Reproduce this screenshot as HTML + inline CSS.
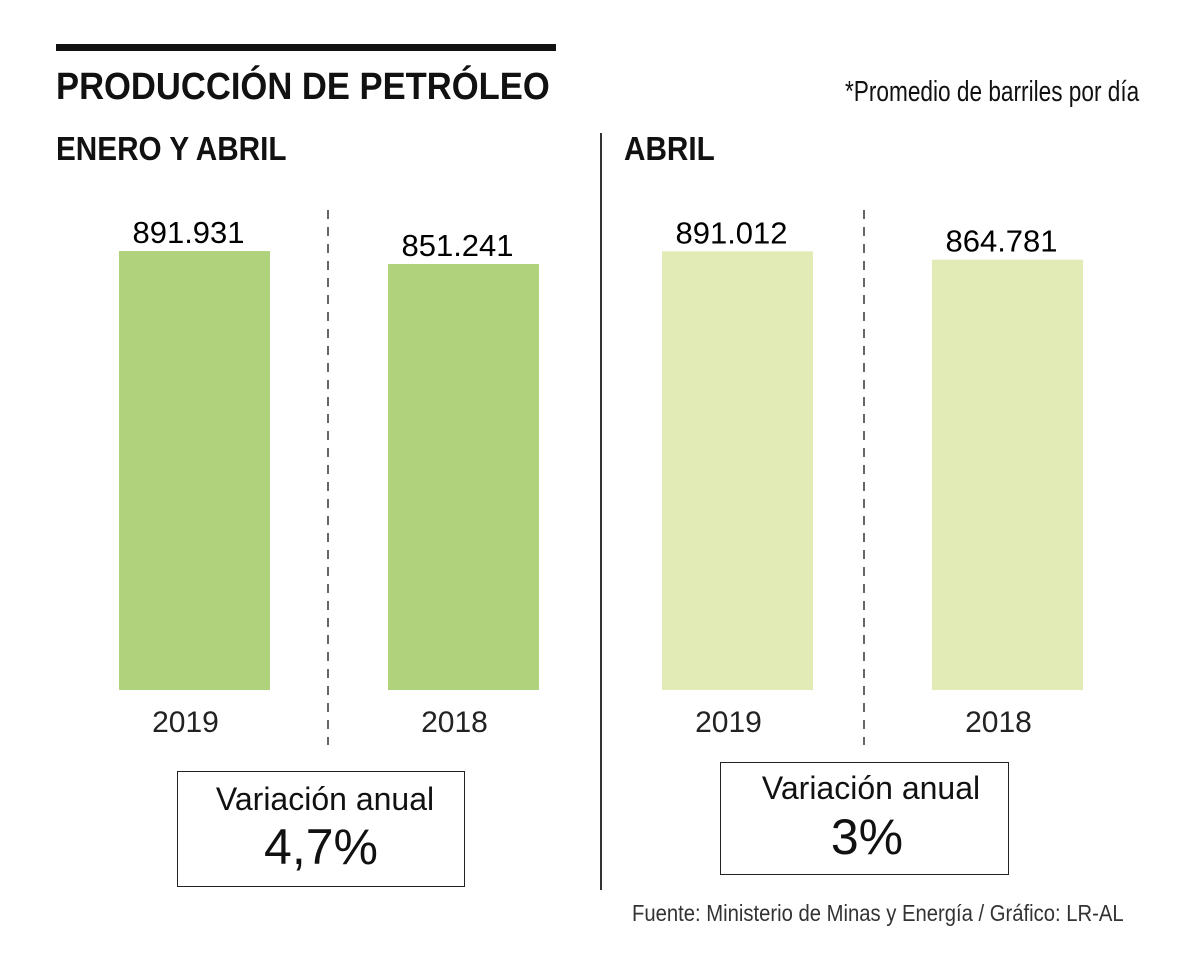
<!DOCTYPE html>
<html><head><meta charset="utf-8"><style>
body{margin:0;width:1200px;height:966px;background:#fff;position:relative;font-family:"Liberation Sans",sans-serif;color:#111;overflow:hidden}
.a{position:absolute;white-space:nowrap}
.t{transform-origin:left top}
</style></head><body>
<div class="a" style="left:56px;top:44px;width:500px;height:7px;background:#111"></div>
<div class="a t" style="left:56px;top:66px;font-size:38px;font-weight:bold;transform:scaleX(0.91)">PRODUCCIÓN DE PETRÓLEO</div>
<div class="a t" style="left:845px;top:76px;font-size:29px;transform:scaleX(0.78)">*Promedio de barriles por día</div>
<div class="a t" style="left:56px;top:130px;font-size:33px;font-weight:bold;transform:scaleX(0.9)">ENERO Y ABRIL</div>
<div class="a t" style="left:624px;top:130px;font-size:33px;font-weight:bold;transform:scaleX(0.9)">ABRIL</div>
<div class="a" style="left:600px;top:133px;width:1.5px;height:757px;background:#333"></div>
<svg class="a" style="left:0;top:0" width="1200" height="966">
<g id="g"></g>
</svg>
<div class="a" style="left:177px;top:771px;width:286px;height:114px;border:1.5px solid #222"></div>
<div class="a" style="left:181px;top:781px;width:288px;text-align:center;font-size:32px">Variación anual</div>
<div class="a" style="left:177px;top:818px;width:288px;text-align:center;font-size:50px">4,7%</div>
<div class="a" style="left:720px;top:762px;width:287px;height:111px;border:1.5px solid #222"></div>
<div class="a" style="left:727px;top:770px;width:288px;text-align:center;font-size:32px">Variación anual</div>
<div class="a" style="left:723px;top:808px;width:288px;text-align:center;font-size:50px">3%</div>
<div class="a t" style="left:632px;top:900px;font-size:23px;color:#333;transform:scaleX(0.88)">Fuente: Ministerio de Minas y Energía / Gráfico: LR-AL</div>
<script>
const categories=["2019","2018","2019","2018"];
const values=[891931,851241,891012,864781];
const labels=["891.931","851.241","891.012","864.781"];
const panels=[0,0,1,1];
const colors=["#b1d27c","#e2ebb5"];
const xs=[119,388,662,932], bw=151, base=690;
function yScale(v){return base-(154+v*0.0003195);}
const g=document.getElementById('g'),NS="http://www.w3.org/2000/svg";
values.forEach((v,i)=>{
 const r=document.createElementNS(NS,'rect');
 
 
 const y=yScale(v);
 r.setAttribute('x',xs[i]);r.setAttribute('y',y);r.setAttribute('width',bw);r.setAttribute('height',base-y);r.setAttribute('fill',colors[panels[i]]);
 g.appendChild(r);
 const t=document.createElementNS(NS,'text');
 
 
 t.setAttribute('x',xs[i]+bw/2-6);t.setAttribute('y',y-8);t.setAttribute('text-anchor','middle');t.setAttribute('font-size','31');t.setAttribute('font-family','Liberation Sans');
 t.textContent=labels[i];g.appendChild(t);
 const c=document.createElementNS(NS,'text');
 
 
 c.setAttribute('x',xs[i]+bw/2-9);c.setAttribute('y',732);c.setAttribute('text-anchor','middle');c.setAttribute('font-size','30');c.setAttribute('font-family','Liberation Sans');c.setAttribute('fill','#222');
 c.textContent=categories[i];g.appendChild(c);
});
[328,864].forEach(x=>{
 const l=document.createElementNS(NS,'line');
 
 
 l.setAttribute('x1',x);l.setAttribute('x2',x);l.setAttribute('y1',210);l.setAttribute('y2',745);l.setAttribute('stroke','#333');l.setAttribute('stroke-width','1.5');l.setAttribute('stroke-dasharray','9 8');
 g.appendChild(l);
});
</script>
</body></html>
